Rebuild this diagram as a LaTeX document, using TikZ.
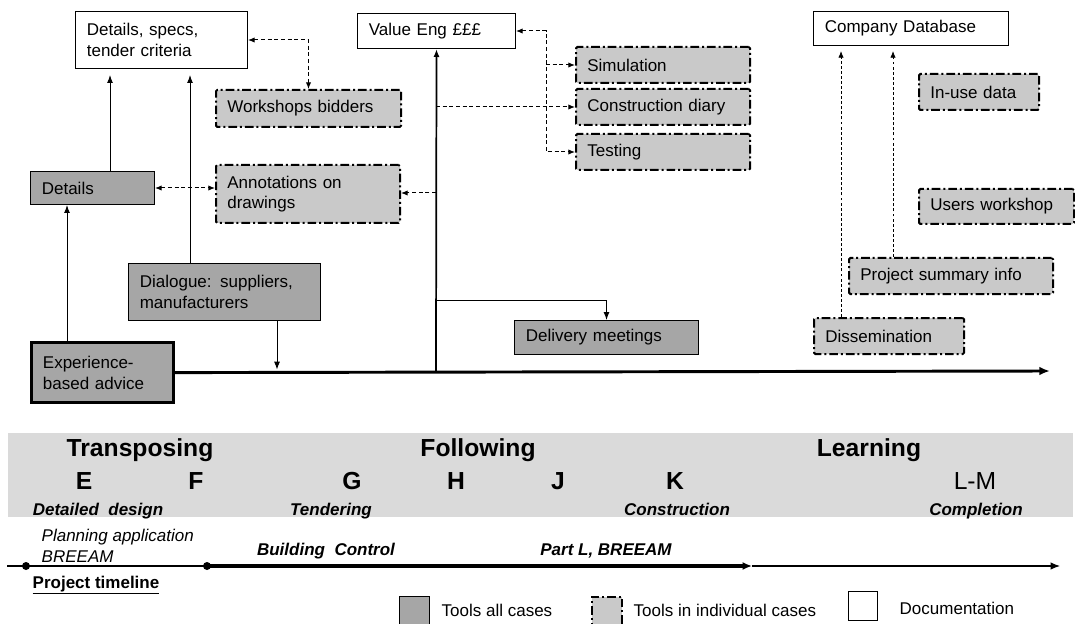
\documentclass[tikz,border=0pt]{standalone}
\usepackage{fontspec}
\setmainfont{Liberation Sans}
\usetikzlibrary{arrows.meta,calc}
\definecolor{dkc}{HTML}{A6A6A6}
\definecolor{ltc}{HTML}{C9C9C9}
\definecolor{bandc}{HTML}{DADADA}
\begin{document}
\begin{tikzpicture}[x=0.75pt,y=-0.75pt,
  every node/.style={font=\fontsize{12.75}{15.5}\selectfont, text=black},
  bx/.style={draw, line width=0.75pt, anchor=north west, align=left, inner xsep=8.5pt, inner ysep=0pt},
  doc/.style={bx, fill=white},
  tool/.style={bx, fill=dkc},
  ind/.style={bx, fill=ltc, line width=1.5pt, rounded corners=1pt, dash pattern=on 6.5pt off 2.2pt on 1.5pt off 2.2pt},
  ar/.style={-{Latex[length=6pt,width=4.5pt]}, line width=0.75pt},
  dsh/.style={line width=0.75pt, dash pattern=on 3pt off 2pt},
  dsh2/.style={line width=0.6pt, dash pattern=on 2.2pt off 1.6pt},
  tp/.tip={Latex[length=5pt,width=4pt]},
  mainln/.style={line width=2.2pt, -{Latex[length=8pt,width=6.5pt]}},
  vln/.style={line width=1.3pt, -{Latex[length=6pt,width=4.5pt]}},
  big/.style={font=\fontsize{18.5}{20}\selectfont\bfseries, anchor=base},
  bigr/.style={font=\fontsize{18.5}{20}\selectfont, anchor=base},
  ph/.style={font=\fontsize{12.75}{15}\selectfont\bfseries\itshape, anchor=base},
  lab/.style={font=\fontsize{12.75}{15}\selectfont, anchor=base west},
  dot/.style={circle, fill=black, inner sep=0pt, minimum size=6pt}
]
\useasboundingbox (0,0) rectangle (1075,624);

% ---------- boxes ----------
\node[doc, minimum width=129pt, minimum height=42.75pt, text width=112pt] (spec) at (75,11) {Details, specs,\\tender criteria};
\node[doc, minimum width=118.5pt, minimum height=26.25pt, text width=101.5pt] (valeng) at (357,13) {Value Eng £££};
\node[doc, minimum width=146.25pt, minimum height=25.5pt, text width=129.25pt] (compdb) at (813,11) {Company Database};
\node[ind, minimum width=138.75pt, minimum height=27.75pt, text width=121.75pt] (workshops) at (215,89) {Workshops bidders};
\node[tool, minimum width=93pt, minimum height=24.75pt, text width=76pt] (details) at (30,171) {Details};
\node[ind, minimum width=138pt, minimum height=43.5pt, text width=121pt] (annot) at (215,164) {Annotations on\\drawings};
\node[ind, minimum width=130.5pt, minimum height=27pt, text width=113.5pt] (sim) at (575,46) {Simulation};
\node[ind, minimum width=130.5pt, minimum height=27pt, text width=113.5pt] (diary) at (575,88) {Construction diary};
\node[ind, minimum width=130.5pt, minimum height=27pt, text width=113.5pt] (testing) at (575,133) {Testing};
\node[ind, minimum width=90pt, minimum height=27pt, text width=73pt] (inuse) at (918,73) {In-use data};
\node[ind, minimum width=116.25pt, minimum height=26.25pt, text width=99.25pt] (users) at (918,188) {Users workshop};
\node[ind, minimum width=153pt, minimum height=27pt, text width=136pt] (projsum) at (848,257) {Project summary info};
\node[ind, minimum width=112.5pt, minimum height=27pt, text width=95.5pt] (dissem) at (813,317) {Dissemination};
\node[tool, minimum width=144pt, minimum height=42.75pt, text width=127pt] (dialogue) at (128,263) {Dialogue: suppliers,\\manufacturers};
\node[tool, line width=2.4pt, minimum width=106.5pt, minimum height=45pt, text width=89.5pt] (exp) at (30,341) {Experience-\\based advice};
\node[tool, minimum width=138pt, minimum height=25.5pt, text width=121pt] (delivery) at (514,320) {Delivery meetings};

% ---------- helper coordinates ----------
\coordinate (xA) at (67,0);
\coordinate (xB) at (110,0);
\coordinate (xC) at (190,0);
\coordinate (xD) at (277,0);
\coordinate (xE) at (546,0);
\coordinate (xF) at (841,0);
\coordinate (xG) at (893,0);
\coordinate (vBase) at (436,371);
\coordinate (vBr) at (436,300);
\coordinate (vAn) at (436,193);
\coordinate (vDi) at (436,107);
\coordinate (mEnd) at (1050,371);

% ---------- connectors ----------
\draw[mainln] (exp.east) -- (mEnd);
\draw[vln] (vBase) -- (valeng.south);
\draw[ar] (vBr) -| (delivery.north);
\draw[ar] (xA |- exp.north) -- (xA |- details.south);
\draw[ar, shorten >=4.5pt] (xB |- details.north) -- (xB |- spec.south);
\draw[ar, shorten >=4.5pt] (xC |- dialogue.north) -- (xC |- spec.south);
\draw[ar, shorten >=1pt] (xD |- dialogue.south) -- (xD |- vBase);

\draw[dsh, tp-tp] (spec.east) -| (workshops.north);
\draw[dsh, tp-tp] (details.east) -- (details.east -| annot.west);
\draw[dsh, -tp] (vAn) -- (vAn -| annot.east);
\draw[dsh, -tp] (vDi |- diary.west) -- (diary.west);
\draw[dsh, tp-tp] (valeng.east) -| (xE |- testing.west) -- (testing.west);
\draw[dsh, -tp] (xE |- sim.west) -- (sim.west);
\draw[dsh2, -tp, shorten >=3.75pt] (xF |- dissem.north) -- (xF |- compdb.south);
\draw[dsh2, -tp, shorten >=3.75pt] (xG |- projsum.north) -- (xG |- compdb.south);

% ---------- phase band ----------
\fill[bandc] (8,433) rectangle (1073,517);
\node[big] (htr) at (140,456) {Transposing};
\node[big] (hfo) at (478,456) {Following};
\node[big] (hle) at (869,456) {Learning};
\node[big] (sE) at (84,489) {E};
\node[big] (sF) at (196,489) {F};
\node[big] (sG) at (352,489) {G};
\node[big] (sH) at (456,489) {H};
\node[big] (sJ) at (558,489) {J};
\node[big] (sK) at (675,489) {K};
\node[bigr] (sLM) at (975,489) {L-M};
\node[ph] (pdd) at (98,515) {Detailed\ \ design};
\node[ph] (pte) at (331,515) {Tendering};
\node[ph] (pco) at (677,515) {Construction};
\node[ph] (pcm) at (976,515) {Completion};

% ---------- timeline ----------
\node[lab, font=\fontsize{12.75}{15}\selectfont\itshape] (tpl) at (37,541) {Planning application};
\node[lab, font=\fontsize{12.75}{15}\selectfont\itshape] (tbr) at (37,562) {BREEAM};
\node[ph] (tbc) at (326,555) {Building\ \ Control};
\node[ph] (tpl2) at (606,555) {Part L, BREEAM};
\coordinate (t0) at (7,566);
\node[dot] (d1) at (26,566) {};
\node[dot] (d2) at (207,566) {};
\coordinate (t1) at (752,566);
\coordinate (t2) at (1060,566);
\draw[line width=0.8pt] (t0) -- (d2.center);
\draw[line width=2.4pt, -{Latex[length=7pt,width=6pt]}] (d2.center) -- (t1);
\draw[line width=0.8pt, -{Latex[length=7pt,width=5.5pt]}] (t1) -- (t2);
\node[lab, font=\fontsize{12.75}{15}\selectfont\bfseries] (ptl) at (28,588) {\underline{Project timeline}};

% ---------- legend ----------
\node[draw, fill=dkc, line width=0.75pt, anchor=north west, minimum width=22.5pt, minimum height=22.5pt, inner sep=0pt] (lg1) at (399,596) {};
\node[lab] (lt1) at (437,616) {Tools all cases};
\node[draw, fill=ltc, line width=1.5pt, dash pattern=on 6.5pt off 2.2pt on 1.5pt off 2.2pt, anchor=north west, minimum width=22.5pt, minimum height=22.5pt, inner sep=0pt] (lg2) at (591,596) {};
\node[lab] (lt2) at (629,616) {Tools in individual cases};
\node[draw, fill=white, line width=0.75pt, anchor=north west, minimum width=21.75pt, minimum height=21.75pt, inner sep=0pt] (lg3) at (848,591) {};
\node[lab] (lt3) at (895,614) {Documentation};
\end{tikzpicture}
\end{document}
